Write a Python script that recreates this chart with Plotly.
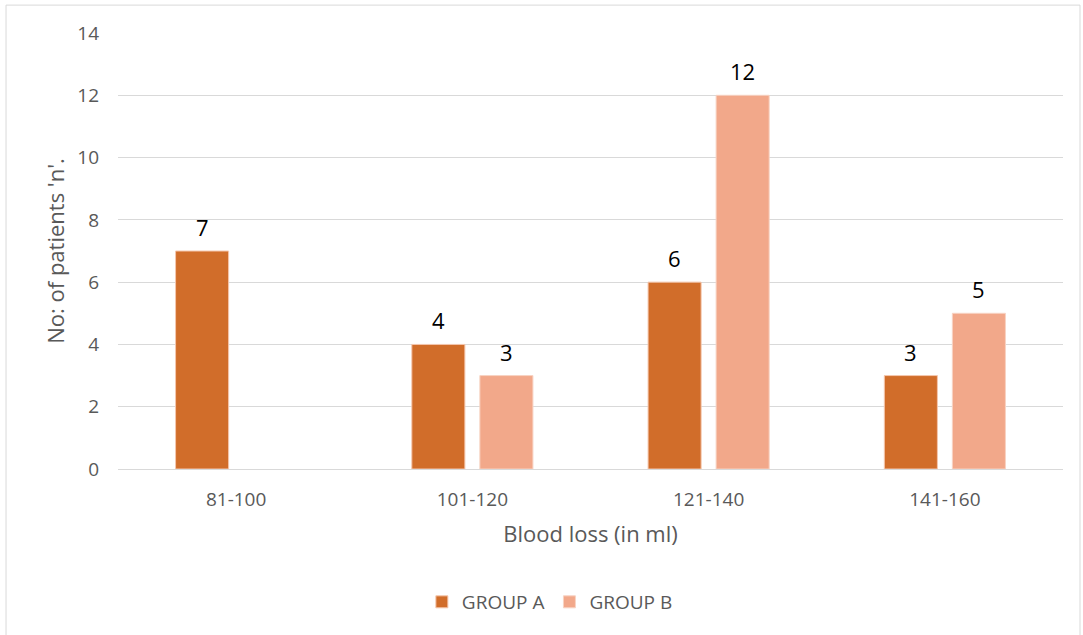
import plotly.graph_objects as go

# Blood loss ranges and patient counts per group
categories = ["81-100", "101-120", "121-140", "141-160"]
group_a = [7, 4, 6, 3]
group_b = [None, 3, 12, 5]
y_ticks = [0, 2, 4, 6, 8, 10, 12, 14]

COLOR_A = "#D16D2A"
COLOR_B = "#F2A88A"
FONT = "'Open Sans', Lato, sans-serif"
BAR_SHIFT = 34  # px between group centre and each bar centre

fig = go.Figure()
fig.add_trace(go.Bar(
    name="GROUP A", x=categories, y=group_a,
    marker=dict(color=COLOR_A, line=dict(color="#F5C7AE", width=1)),
))
fig.add_trace(go.Bar(
    name="GROUP B", x=categories, y=group_b,
    marker=dict(color=COLOR_B, line=dict(color="#F8D3C3", width=1)),
))

# value labels above each bar
for vals, shift in ((group_a, -BAR_SHIFT), (group_b, BAR_SHIFT)):
    for cat, v in zip(categories, vals):
        if v is None:
            continue
        fig.add_annotation(
            x=cat, y=v, xref="x", yref="y", text=str(v), showarrow=False,
            xshift=shift, yshift=24, yanchor="middle",
            font=dict(family=FONT, size=22, color="#000000"),
        )

# outer chart frame
fig.add_shape(
    type="rect", xref="paper", yref="paper",
    x0=-0.1185, x1=1.018, y0=-0.45, y1=1.064,
    line=dict(color="#D9D9D9", width=1), fillcolor="rgba(0,0,0,0)", layer="below",
)

fig.update_layout(
    width=1083, height=635,
    margin=dict(l=118, r=20, t=33, b=166),
    paper_bgcolor="white", plot_bgcolor="white",
    barmode="group", bargap=0.424, bargroupgap=0.22,
    font=dict(family=FONT, color="#595959"),
    legend=dict(
        orientation="h", x=0.457, xanchor="center", y=-0.305, yanchor="middle",
        font=dict(family=FONT, size=19, color="#595959"),
        itemwidth=30, traceorder="normal",
    ),
    showlegend=True,
)
fig.update_xaxes(
    showgrid=False, showline=True, linecolor="#D9D9D9", linewidth=1,
    tickfont=dict(family=FONT, size=19, color="#595959"), ticks="",
    ticklabelstandoff=13,
    title=dict(text="Blood loss (in ml)", font=dict(family=FONT, size=22, color="#595959"), standoff=15),
)
fig.update_yaxes(
    range=[0, 14], tickvals=y_ticks, showgrid=True, gridcolor="#D9D9D9", gridwidth=1,
    zeroline=False, showline=False, ticks="", ticklabelstandoff=18,
    tickfont=dict(family=FONT, size=19, color="#595959"),
    title=dict(text="No: of patients 'n'.", font=dict(family=FONT, size=22, color="#595959"), standoff=6),
)

fig.write_html("out.html")
